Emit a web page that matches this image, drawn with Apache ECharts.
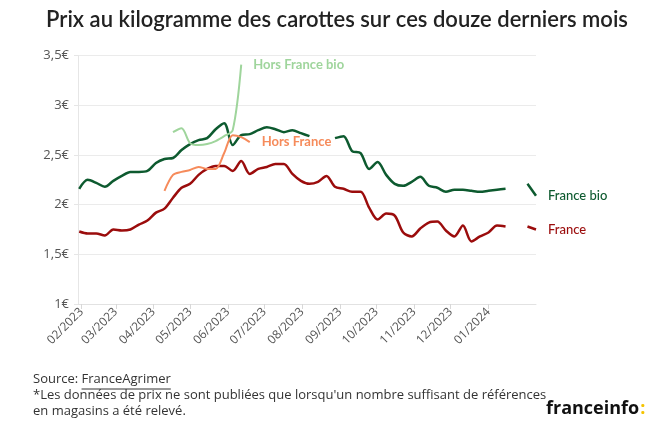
<!DOCTYPE html>
<html><head><meta charset="utf-8">
<script src="https://cdn.jsdelivr.net/npm/echarts@6/dist/echarts.min.js"></script>
<style>html,body{margin:0;padding:0;background:#fff}#c{width:660px;height:433px}</style>
</head><body><div id="c"></div>
<script>
const dates = ['2023-01-30','2023-02-06','2023-02-13','2023-02-20','2023-02-27','2023-03-06','2023-03-13','2023-03-20','2023-03-27','2023-04-03',
'2023-04-10','2023-04-17','2023-04-24','2023-05-01','2023-05-08','2023-05-15','2023-05-22','2023-05-29','2023-06-05','2023-06-12',
'2023-06-19','2023-06-26','2023-07-03','2023-07-10','2023-07-17','2023-07-24','2023-07-31','2023-08-07','2023-08-14','2023-08-21',
'2023-08-28','2023-09-04','2023-09-11','2023-09-18','2023-09-25','2023-10-02','2023-10-09','2023-10-16','2023-10-23','2023-10-30',
'2023-11-06','2023-11-13','2023-11-20','2023-11-27','2023-12-04','2023-12-11','2023-12-18','2023-12-25','2024-01-01','2024-01-08',
'2024-01-15','2024-01-24','2024-02-02','2024-02-09'];
const franceBio = [2.16,2.25,2.22,2.18,2.24,2.29,2.33,2.33,2.34,2.42,
2.46,2.47,2.55,2.61,2.65,2.67,2.76,2.82,2.60,2.70,
2.71,2.75,2.78,2.76,2.73,2.75,2.72,2.69,null,null,
2.67,2.69,2.54,2.52,2.36,2.43,2.30,2.21,2.19,2.23,
2.28,2.19,2.17,2.13,2.15,2.15,2.14,2.13,2.14,2.15,
2.16,null,2.21,2.09];
const france = [1.73,1.71,1.71,1.69,1.75,1.74,1.75,1.80,1.84,1.92,
1.96,2.07,2.17,2.21,2.30,2.36,2.39,2.39,2.34,2.44,
2.31,2.36,2.38,2.41,2.41,2.31,2.24,2.21,2.23,2.29,
2.18,2.16,2.13,2.13,1.97,1.85,1.91,1.89,1.72,1.68,
1.76,1.82,1.83,1.74,1.68,1.79,1.63,1.68,1.72,1.79,
1.78,null,1.78,1.75];
const horsFranceBio = [null,null,null,null,null,null,null,null,null,null,
null,2.73,2.77,2.62,2.60,2.61,2.64,2.69,2.75,3.41];
const horsFrance = [null,null,null,null,null,null,null,null,null,null,
2.14,2.30,2.33,2.35,2.38,2.36,2.36,2.52,2.70,2.68,
2.63];
const monthTicks = ['2023-02-01','2023-03-01','2023-04-01','2023-05-01','2023-06-01','2023-07-01',
'2023-08-01','2023-09-01','2023-10-01','2023-11-01','2023-12-01','2024-01-01'];
const yTicks = [1, 1.5, 2, 2.5, 3, 3.5];
const names = ['France', 'France bio', 'Hors France', 'Hors France bio'];
const colors = ['#9b0c0c', '#0d5a2f', '#f68b5b', '#9fd59c'];

const FONT = 'Lato';
const toTs = s => new Date(s + 'T00:00:00').getTime();
function pairs(vals){
  const out = vals.map((v,i)=>[toTs(dates[i]), v == null ? '-' : v]);
  let s = 0; while (s < out.length && out[s][1] === '-') s++;
  let e = out.length - 1; while (e >= 0 && out[e][1] === '-') e--;
  return out.slice(s, e + 1);
}
function mk(name, vals, color, width, weight){
  return {
    name, type:'line', data: pairs(vals), symbol:'none', smooth:0.3, connectNulls:false,
    lineStyle:{color, width}, itemStyle:{color},
    endLabel:{show:true, formatter:'{a}', distance:12, color, fontSize:13, fontWeight:weight, fontFamily:FONT},
    emphasis:{disabled:true}
  };
}
function measure(text, font){
  const c = document.createElement('canvas').getContext('2d');
  c.font = font; return c.measureText(text).width;
}
const chart = echarts.init(document.getElementById('c'), null, {renderer:'canvas'});
const fFont = '13px "Open Sans"';
const srcW = measure('Source: ', fFont);
const agW = measure('FranceAgrimer', fFont);
const logoW = measure('franceinfo', 'bold 18px "Open Sans"');
const tickTs = monthTicks.map(toTs);
chart.setOption({
  animation:false,
  backgroundColor:'#fff',
  grid:{left:78, right:124, top:55.7, bottom:129},
  xAxis:{type:'value', min:toTs('2023-01-29'), max:toTs('2024-02-09'),
    axisLine:{show:true, lineStyle:{color:'#e2e2e2'}},
    axisTick:{show:true, length:5, lineStyle:{color:'#d8d8d8'}, customValues:tickTs},
    splitLine:{show:false},
    axisLabel:{rotate:45, color:'#555', fontSize:12, fontFamily:'Open Sans', margin:6, hideOverlap:false,
      customValues:tickTs, showMinLabel:true, showMaxLabel:true,
      formatter:v=>{const d=new Date(v); return String(d.getMonth()+1).padStart(2,'0')+'/'+d.getFullYear();}}},
  yAxis:{type:'value', min:yTicks[0], max:yTicks[yTicks.length-1], interval:0.5,
    axisLine:{show:true, lineStyle:{color:'#e6e6e6'}},
    axisTick:{show:true, length:4, lineStyle:{color:'#e6e6e6'}},
    splitLine:{lineStyle:{color:'#ebebeb'}},
    axisLabel:{color:'#555', fontSize:13, fontFamily:'Open Sans', margin:9,
      formatter:v=>String(v).replace('.', ',')+'€'}},
  series:[
    mk(names[0], france, colors[0], 2.5, 500),
    mk(names[1], franceBio, colors[1], 2.5, 500),
    mk(names[2], horsFrance, colors[2], 2, 700),
    mk(names[3], horsFranceBio, colors[3], 2, 700)
  ],
  graphic:[
    {type:'text', x:337, y:20, style:{text:'Prix au kilogramme des carottes sur ces douze derniers mois',
      font:'600 22px Lato', fill:'#222', textAlign:'center', textVerticalAlign:'middle'}},
    {type:'text', left:33, top:373, style:{text:'Source: ', font:fFont, fill:'#333'}},
    {type:'text', left:33+srcW, top:373, style:{text:'FranceAgrimer', font:fFont, fill:'#333'}},
    {type:'line', shape:{x1:33+srcW, y1:389, x2:33+srcW+agW, y2:389}, style:{stroke:'#333', lineWidth:1}},
    {type:'text', left:33, top:389, style:{text:"*Les données de prix ne sont publiées que lorsqu'un nombre suffisant de références", font:fFont, fill:'#333'}},
    {type:'text', left:33, top:405, style:{text:'en magasins a été relevé.', font:fFont, fill:'#333'}},
    {type:'text', left:546, top:400, style:{text:'franceinfo', font:'bold 18px "Open Sans"', fill:'#111'}},
    {type:'text', left:546+logoW+1, top:400, style:{text:':', font:'bold 18px "Open Sans"', fill:'#f5c400'}}
  ]
});
</script></body></html>
